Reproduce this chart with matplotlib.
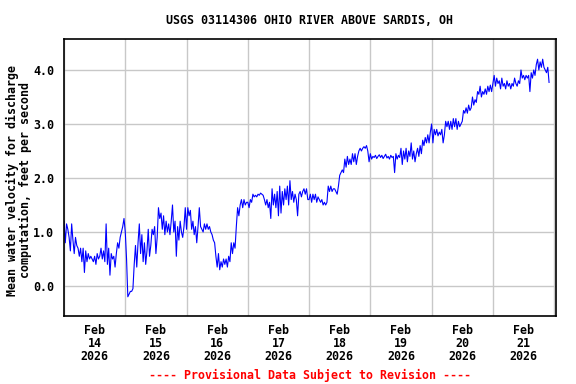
import numpy as np
import matplotlib
matplotlib.use('Agg')
import matplotlib.pyplot as plt
import matplotlib.dates as mdates
from matplotlib.ticker import FixedLocator, NullFormatter

# mean water velocity, ft/s, read every 30 min from the reference
day_14 = [1.2, 0.8, 1.15, 1.05, 0.9, 0.65, 1.15, 0.85, 0.6, 0.9, 0.75, 0.7,
          0.55, 0.7, 0.45, 0.7, 0.25, 0.65, 0.45, 0.6, 0.5, 0.55, 0.5, 0.45,
          0.55, 0.4, 0.6, 0.5, 0.55, 0.7, 0.5, 0.65, 0.45, 1.15, 0.4, 0.7,
          0.2, 0.6, 0.5, 0.55, 0.35, 0.6, 0.8, 0.7, 0.9, 1.0, 1.1, 1.25]
day_15 = [1.0, 0.5, -0.2, -0.15, -0.1, -0.1, -0.05, 0.4, 0.75, 0.35, 0.8, 1.15,
          0.6, 0.95, 0.45, 0.8, 0.4, 0.65, 1.05, 0.55, 0.75, 1.05, 0.95, 1.1,
          0.6, 0.9, 1.45, 1.25, 1.35, 1.05, 1.3, 0.95, 1.2, 1.0, 1.15, 0.95,
          1.2, 1.5, 1.0, 1.2, 0.55, 1.1, 0.85, 1.2, 1.0, 0.9, 1.1, 1.45]
day_16 = [1.05, 1.45, 1.3, 1.4, 1.05, 1.2, 0.95, 1.1, 0.8, 1.1, 1.45, 1.1,
          1.05, 1.0, 1.15, 1.05, 1.15, 1.05, 1.1, 1.0, 0.95, 0.85, 0.8, 0.55,
          0.35, 0.6, 0.3, 0.45, 0.35, 0.5, 0.4, 0.5, 0.35, 0.55, 0.45, 0.8,
          0.6, 0.8, 0.7, 1.1, 1.45, 1.3, 1.5, 1.6, 1.45, 1.6, 1.5, 1.55]
day_17 = [1.55, 1.45, 1.6, 1.55, 1.7, 1.65, 1.68, 1.65, 1.7, 1.68, 1.72, 1.7,
          1.68, 1.6, 1.5, 1.6, 1.45, 1.55, 1.25, 1.8, 1.5, 1.7, 1.45, 1.75,
          1.3, 1.85, 1.35, 1.75, 1.5, 1.8, 1.6, 1.85, 1.5, 1.95, 1.6, 1.75,
          1.55, 1.7, 1.6, 1.3, 1.7, 1.75, 1.65, 1.75, 1.8, 1.7, 1.8, 1.6]
day_18 = [1.6, 1.7, 1.55, 1.7, 1.6, 1.7, 1.55, 1.65, 1.6, 1.55, 1.6, 1.5,
          1.55, 1.5, 1.55, 1.85, 1.75, 1.85, 1.75, 1.8, 1.8, 1.75, 1.7, 1.85,
          2.05, 2.1, 2.15, 2.1, 2.35, 2.2, 2.4, 2.25, 2.35, 2.25, 2.45, 2.3,
          2.45, 2.25, 2.4, 2.5, 2.55, 2.5, 2.55, 2.58, 2.55, 2.6, 2.5, 2.3]
day_19 = [2.45, 2.35, 2.4, 2.38, 2.42, 2.36, 2.4, 2.43, 2.38, 2.42, 2.36, 2.4,
          2.44, 2.37, 2.4, 2.35, 2.42, 2.38, 2.4, 2.1, 2.45, 2.35, 2.42, 2.38,
          2.55, 2.25, 2.5, 2.35, 2.55, 2.3, 2.5, 2.4, 2.65, 2.35, 2.5, 2.3,
          2.45, 2.55, 2.4, 2.6, 2.45, 2.7, 2.6, 2.75, 2.65, 2.8, 2.65, 2.85]
day_20 = [3.0, 2.65, 2.9, 2.8, 2.9, 2.78, 2.85, 2.8, 2.9, 2.65, 2.8, 3.05,
          2.95, 3.05, 2.9, 3.05, 2.9, 3.1, 2.95, 3.1, 2.9, 3.05, 2.95, 3.0,
          3.05, 3.25, 3.2, 3.3, 3.2, 3.35, 3.25, 3.3, 3.5, 3.35, 3.45, 3.4,
          3.6, 3.55, 3.7, 3.5, 3.6, 3.55, 3.65, 3.55, 3.7, 3.6, 3.72, 3.6]
day_21 = [3.75, 3.9, 3.7, 3.85, 3.75, 3.8, 3.65, 3.85, 3.7, 3.75, 3.65, 3.8,
          3.7, 3.75, 3.65, 3.75, 3.7, 3.85, 3.75, 3.7, 3.8, 3.75, 4.0, 3.85,
          3.9, 3.82, 3.9, 3.85, 3.9, 3.6, 3.95, 3.85, 4.0, 3.9, 4.1, 4.2,
          4.0, 4.15, 4.05, 4.2, 4.05, 4.0, 3.95, 4.05, 3.77]

velocity = np.array(day_14 + day_15 + day_16 + day_17 + day_18 + day_19 + day_20 + day_21)
times = np.datetime64('2026-02-14T00:00') + np.arange(len(velocity)) * np.timedelta64(30, 'm')

days = np.arange(np.datetime64('2026-02-14'), np.datetime64('2026-02-23'))
day_labels = ['Feb\n14\n2026', 'Feb\n15\n2026', 'Feb\n16\n2026', 'Feb\n17\n2026',
              'Feb\n18\n2026', 'Feb\n19\n2026', 'Feb\n20\n2026', 'Feb\n21\n2026']

font = {'family': 'DejaVu Sans Mono', 'weight': 'bold', 'size': 8.4}

fig = plt.figure(figsize=(5.76, 3.84), dpi=100)
ax = fig.add_axes([64/576, 1-316/384, (556-64)/576, (316-39)/384])

ax.plot(times.astype('datetime64[s]').astype(object), velocity, color='#0000ff', lw=0.8)

day_nums = mdates.date2num(days.astype('datetime64[s]').astype(object))
ax.set_xlim(day_nums[0], day_nums[0] + 8.03)
ax.set_ylim(-0.556, 4.574)

ax.xaxis.set_major_locator(FixedLocator(day_nums))
ax.xaxis.set_major_formatter(NullFormatter())
ax.xaxis.set_minor_locator(FixedLocator(day_nums[:8] + 0.5))
ax.set_xticklabels(day_labels, minor=True, fontdict=font, linespacing=1.0)
ax.set_yticks([0, 1, 2, 3, 4])
ax.set_yticklabels(['0.0', '1.0', '2.0', '3.0', '4.0'], fontdict=font)
ax.tick_params(axis='both', which='both', length=0)
ax.tick_params(axis='x', which='minor', pad=6)
ax.tick_params(axis='y', pad=7)

ax.grid(True, which='major', color='#c8c8c8', lw=1.0)
ax.set_axisbelow(True)
for sp in ax.spines.values():
    sp.set_linewidth(1.2)

fig.text(19/576, 1-180/384, 'Mean water velocity for discharge\ncomputation, feet per second',
         rotation=90, ha='center', va='center', linespacing=1.05, **font)
fig.text(0.5*(64+556)/576, 1-20/384, 'USGS 03114306 OHIO RIVER ABOVE SARDIS, OH',
         ha='center', va='center', **font)
fig.text(0.5*(64+556)/576, 1-375/384, '---- Provisional Data Subject to Revision ----',
         ha='center', va='center', color='red', **font)

fig.savefig('out.png', dpi=100)
